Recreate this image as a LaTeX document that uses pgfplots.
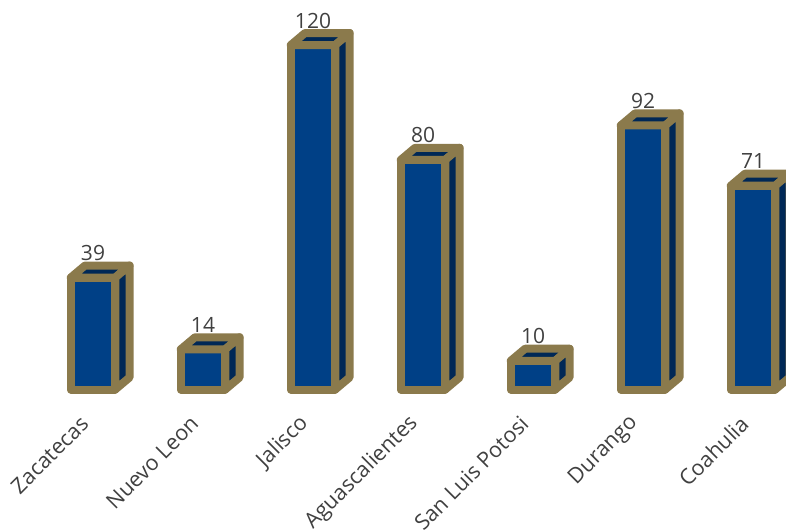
\documentclass[border=0pt]{standalone}
\usepackage{pgfplots}
\pgfplotsset{compat=1.18}
\usepackage{pgfplotstable}
\usepackage{fontspec}
\setmainfont{Open Sans}
\definecolor{gold}{RGB}{139,122,76}
\definecolor{front}{RGB}{0,64,134}
\definecolor{dark}{RGB}{0,40,86}
\definecolor{txt}{RGB}{64,64,64}

\pgfplotstableread{
x v
0 39
1 14
2 120
3 80
4 10
5 92
6 71
}\data

\begin{document}
\begin{tikzpicture}
\useasboundingbox (0,0) rectangle (786pt,531pt);
\clip (0,0) rectangle (786pt,531pt);
\begin{axis}[
  scale only axis, width=786pt, height=389.5pt,
  at={(0pt,141.5pt)}, anchor=south west,
  xmin=-0.8455, xmax=6.3, ymin=0, ymax=135.7,
  clip=false,
  /pgf/number format/assume math mode=true,
  axis line style={draw=none}, tick style={draw=none},
  ytick=\empty,
  xtick={0,...,6},
  xticklabels={Zacatecas,Nuevo Leon,Jalisco,Aguascalientes,San Luis Potosi,Durango,Coahulia},
  major tick length=0pt,
  x tick label style={xshift=-7pt, yshift=-29pt, rotate=45, anchor=east, inner sep=2pt, font=\fontsize{21.5}{25}\selectfont, text=txt},
  facestyle/.style={draw=gold, line width=8pt, line join=round},
]
\addplot[ybar, bar width=0.4045, fill=front, facestyle] table[x=x,y=v]{\data};
\pgfplotsinvokeforeach{0,...,6}{
  \pgfplotstablegetelem{#1}{v}\of\data
  \pgfmathsetmacro\vt{\pgfplotsretval}
  \pgfmathsetmacro\vb{\pgfplotsretval+4.2}
  \pgfmathsetmacro\xL{#1-0.2023}
  \pgfmathsetmacro\xR{#1+0.2023}
  \pgfmathsetmacro\xLb{#1-0.2023+0.13}
  \pgfmathsetmacro\xRb{#1+0.2023+0.13}
  \edef\doplot{%
    \noexpand\addplot[fill=dark, facestyle] coordinates {(\xL,\vt) (\xR,\vt) (\xRb,\vb) (\xLb,\vb)} -- cycle;
    \noexpand\addplot[fill=dark, facestyle] coordinates {(\xR,0) (\xRb,4.2) (\xRb,\vb) (\xR,\vt)} -- cycle;
  }%
  \doplot
}
\addplot[draw=none, mark=none, nodes near coords,
  every node near coord/.append style={anchor=base, yshift=17pt, font=\fontsize{21}{25}\selectfont, text=txt}]
  table[x=x,y=v]{\data};
\end{axis}
\end{tikzpicture}
\end{document}
